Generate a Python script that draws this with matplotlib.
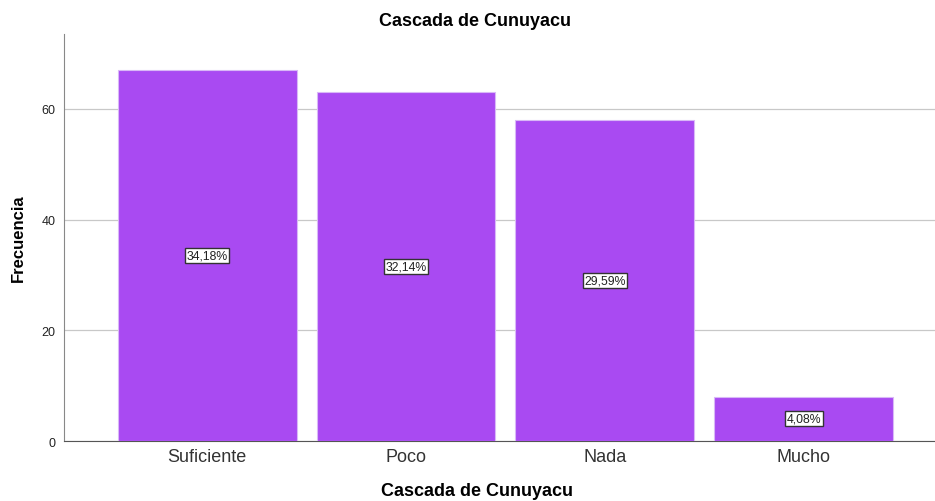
import matplotlib.pyplot as plt
import numpy as np

plt.rcParams['font.family'] = ['Liberation Sans', 'DejaVu Sans']

categories = ['Suficiente', 'Poco', 'Nada', 'Mucho']
counts = [67, 63, 58, 8]
percent_labels = ['34,18%', '32,14%', '29,59%', '4,08%']
y_ticks = [0, 20, 40, 60]

fig = plt.figure(figsize=(9.35, 5.02), dpi=100)
ax = fig.add_axes([0.0684, 0.1195, 0.9316, 0.8105])

x = np.arange(len(categories))
ax.bar(x, counts, width=0.9, color='#a94af2', edgecolor='#d9b8f7', linewidth=0.8, zorder=3)

for xi, c, lab in zip(x, counts, percent_labels):
    ax.text(xi, c / 2, lab, ha='center', va='center', fontsize=8.8, color='#222222', zorder=4,
            bbox=dict(boxstyle='square,pad=0.12', facecolor='white', edgecolor='#333333', linewidth=1))

ax.set_xlim(-0.72, 3.66)
ax.set_ylim(0, 73.5)
ax.set_yticks(y_ticks)
ax.set_yticklabels([str(t) for t in y_ticks], fontsize=9, color='#222222')
ax.set_xticks(x)
ax.set_xticklabels(categories, fontsize=13, color='#333333')
ax.tick_params(axis='x', length=0, pad=5)
ax.tick_params(axis='y', length=0, pad=6)
ax.yaxis.grid(True, color='#c8c8c8', linewidth=0.9, zorder=0)

for side in ['top', 'right']:
    ax.spines[side].set_visible(False)
ax.spines['left'].set_color('#888888')
ax.spines['bottom'].set_color('#555555')

# title and x label sit slightly left of the axes centre, as in the original export
fig.text(475 / 935, 1 - 22 / 502, 'Cascada de Cunuyacu', ha='center', va='center',
         fontsize=13, fontweight='bold')
fig.text(477 / 935, 1 - 492 / 502, 'Cascada de Cunuyacu', ha='center', va='center',
         fontsize=13, fontweight='bold')
fig.text(18 / 935, 1 - 238 / 502, 'Frecuencia', ha='center', va='center', rotation=90,
         fontsize=12, fontweight='bold')

fig.savefig('out.png', dpi=100)
